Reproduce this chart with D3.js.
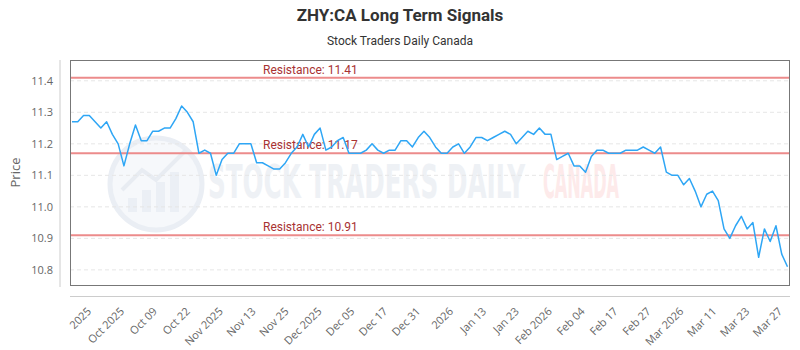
<!DOCTYPE html>
<html>
<head>
<meta charset="utf-8">
<script src="https://cdn.jsdelivr.net/npm/d3@7"></script>
<style>
  body { margin: 0; background: #fff; }
  svg { display: block; }
  .tick-x { font-family: "Open Sans", "Noto Sans", sans-serif; font-size: 11px; fill: #666; }
  .tick-y { font-family: "Open Sans", "Noto Sans", sans-serif; font-size: 11px; fill: #666; }
</style>
</head>
<body>
<svg width="800" height="350"></svg>
<script>
// ZHY:CA long term signals
const prices = [
  11.27, 11.27, 11.29, 11.29, 11.27, 11.25, 11.27, 11.23, 11.20, 11.13,
  11.20, 11.26, 11.21, 11.21, 11.24, 11.24, 11.25, 11.25, 11.28, 11.32,
  11.30, 11.27, 11.17, 11.18, 11.17, 11.10, 11.15, 11.17, 11.17, 11.20,
  11.20, 11.20, 11.14, 11.14, 11.13, 11.12, 11.12, 11.14, 11.17, 11.19,
  11.23, 11.19, 11.23, 11.25, 11.18, 11.19, 11.21, 11.22, 11.17, 11.17,
  11.17, 11.18, 11.20, 11.18, 11.17, 11.18, 11.18, 11.21, 11.21, 11.19,
  11.22, 11.24, 11.22, 11.19, 11.17, 11.17, 11.19, 11.20, 11.17, 11.19,
  11.22, 11.22, 11.21, 11.22, 11.23, 11.24, 11.23, 11.20, 11.22, 11.24,
  11.23, 11.25, 11.23, 11.23, 11.15, 11.16, 11.17, 11.13, 11.13, 11.11,
  11.16, 11.18, 11.18, 11.17, 11.17, 11.17, 11.18, 11.18, 11.18, 11.19,
  11.18, 11.17, 11.19, 11.11, 11.10, 11.10, 11.07, 11.09, 11.05, 11.00,
  11.04, 11.05, 11.02, 10.93, 10.90, 10.94, 10.97, 10.93, 10.95, 10.84,
  10.93, 10.89, 10.94, 10.85, 10.81
];

const xLabels = ['2025', 'Oct 2025', 'Oct 09', 'Oct 22', 'Nov 2025', 'Nov 13', 'Nov 25',
  'Dec 2025', 'Dec 05', 'Dec 17', 'Dec 31', '2026', 'Jan 13', 'Jan 23', 'Feb 2026',
  'Feb 04', 'Feb 17', 'Feb 27', 'Mar 2026', 'Mar 11', 'Mar 23', 'Mar 27'];

const yTicks = [10.8, 10.9, 11.0, 11.1, 11.2, 11.3, 11.4];

const resistance = [11.41, 11.17, 10.91];

const svg = d3.select('svg');

// plot box
const pLeft = 70, pRight = 790, pTop = 60, pBottom = 285;

const x = d3.scaleLinear().domain([0, prices.length - 1]).range([pLeft + 2, pRight - 2.5]);
const y = d3.scaleLinear().domain([10.752, 11.466]).range([pBottom, pTop]);
const xl = d3.scalePoint().domain(xLabels).range([92, 783]);

// titles
svg.append('text')
  .attr('x', 400).attr('y', 21)
  .attr('text-anchor', 'middle')
  .style('font-family', 'Roboto, sans-serif')
  .style('font-size', '17px').style('font-weight', 'bold')
  .style('fill', '#333')
  .text('ZHY:CA Long Term Signals');

svg.append('text')
  .attr('x', 400).attr('y', 45)
  .attr('text-anchor', 'middle')
  .style('font-family', 'Roboto, sans-serif')
  .style('font-size', '12px')
  .style('fill', '#333')
  .text('Stock Traders Daily Canada');

// watermark
const wm = svg.append('g');
wm.append('circle')
  .attr('cx', 156).attr('cy', 184).attr('r', 46)
  .attr('fill', '#f6f8fb').attr('stroke', '#eaeef4').attr('stroke-width', 5);
wm.selectAll('rect.wmbar')
  .data([14, 22, 30, 40])
  .enter().append('rect')
    .attr('class', 'wmbar')
    .attr('x', (d, i) => 128 + i * 14)
    .attr('y', d => 212 - d)
    .attr('width', 9)
    .attr('height', d => d)
    .attr('fill', '#ebeff5');
wm.append('path')
  .attr('d', 'M122,190 L142,170 L156,180 L186,150')
  .attr('fill', 'none').attr('stroke', '#e8ecf2').attr('stroke-width', 4);
wm.append('text')
  .attr('x', 208).attr('y', 198)
  .attr('textLength', 317).attr('lengthAdjust', 'spacingAndGlyphs')
  .style('font-family', '"DejaVu Sans Condensed", "Liberation Sans Narrow", sans-serif')
  .style('font-size', '46px').style('font-weight', 'bold')
  .style('fill', '#eef1f5')
  .text('STOCK TRADERS DAILY');
wm.append('text')
  .attr('x', 543).attr('y', 198)
  .attr('textLength', 76).attr('lengthAdjust', 'spacingAndGlyphs')
  .style('font-family', '"DejaVu Sans Condensed", "Liberation Sans Narrow", sans-serif')
  .style('font-size', '46px').style('font-weight', 'bold')
  .style('fill', '#fdeaea')
  .text('CANADA');

// grid
svg.append('g')
  .selectAll('line')
  .data(yTicks)
  .enter().append('line')
    .attr('x1', pLeft).attr('x2', pRight)
    .attr('y1', d => y(d)).attr('y2', d => y(d))
    .attr('stroke', '#e6e6e6')
    .attr('stroke-dasharray', '4,3');

// y axis
const yAxis = svg.append('g')
  .attr('transform', `translate(${pLeft - 10},0)`)
  .call(d3.axisLeft(y).tickValues(yTicks).tickFormat(d3.format('.1f')).tickSize(0).tickPadding(7));
yAxis.select('.domain').remove();
yAxis.append('line')
  .attr('x1', 0).attr('x2', 0).attr('y1', pTop).attr('y2', pBottom + 2)
  .attr('stroke', '#ccc');
yAxis.selectAll('.tick text').attr('class', 'tick-y').attr('fill', null);

svg.append('text')
  .attr('transform', `translate(20,${(pTop + pBottom) / 2}) rotate(-90)`)
  .attr('text-anchor', 'middle')
  .style('font-family', '"Open Sans", sans-serif')
  .style('font-size', '13px')
  .style('fill', '#666')
  .text('Price');

// x axis
svg.append('line')
  .attr('x1', pLeft).attr('x2', pRight).attr('y1', 296.5).attr('y2', 296.5)
  .attr('stroke', '#ccc');

svg.append('g')
  .selectAll('text')
  .data(xLabels)
  .enter().append('text')
    .attr('class', 'tick-x')
    .attr('text-anchor', 'end')
    .attr('transform', d => `translate(${xl(d)},312) rotate(-45)`)
    .text(d => d);

// resistance lines
const res = svg.append('g');
res.selectAll('line')
  .data(resistance)
  .enter().append('line')
    .attr('x1', pLeft).attr('x2', pRight)
    .attr('y1', d => y(d)).attr('y2', d => y(d))
    .attr('stroke', '#ec8b8b')
    .attr('stroke-width', 2);
res.selectAll('text')
  .data(resistance)
  .enter().append('text')
    .attr('x', 263)
    .attr('y', d => y(d) - 4)
    .style('font-family', 'Roboto, sans-serif')
    .style('font-size', '12px')
    .style('fill', '#a83232')
    .text(d => 'Resistance: ' + d.toFixed(2));

// price line
const line = d3.line()
  .x((d, i) => x(i))
  .y(d => y(d));

svg.append('path')
  .datum(prices)
  .attr('d', line)
  .attr('fill', 'none')
  .attr('stroke', '#2ea6f5')
  .attr('stroke-width', 1.5)
  .attr('stroke-linejoin', 'round');

// plot border
svg.append('rect')
  .attr('x', pLeft + 0.5).attr('y', pTop + 0.5)
  .attr('width', pRight - pLeft - 1).attr('height', pBottom - pTop)
  .attr('fill', 'none')
  .attr('stroke', '#777');
</script>
</body>
</html>
